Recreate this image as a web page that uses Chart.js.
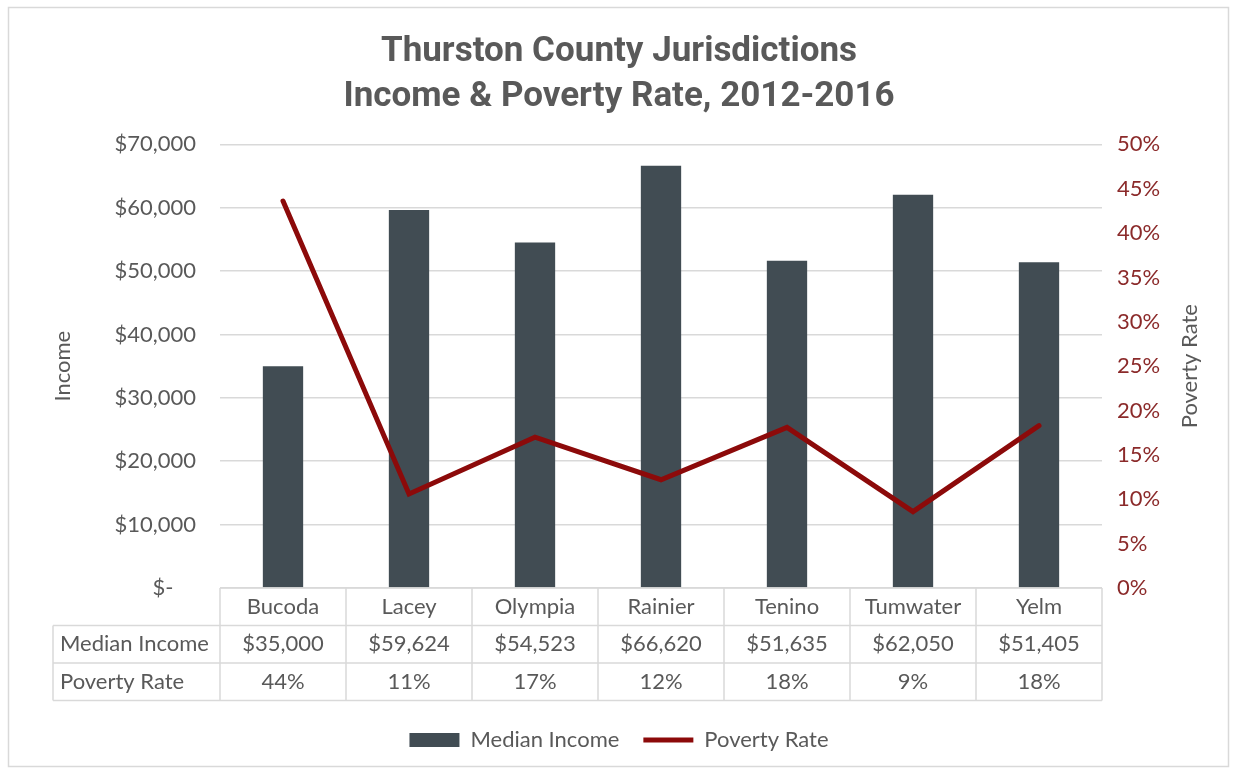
<!DOCTYPE html>
<html>
<head>
<meta charset="utf-8">
<script src="https://cdn.jsdelivr.net/npm/chart.js@4"></script>
<style>
  html, body { margin: 0; padding: 0; background: #fff; }
  canvas { display: block; }
</style>
</head>
<body>
<canvas id="chart" width="1238" height="774"></canvas>
<script>
const categories = ['Bucoda', 'Lacey', 'Olympia', 'Rainier', 'Tenino', 'Tumwater', 'Yelm'];
const medianIncome = [35000, 59624, 54523, 66620, 51635, 62050, 51405];
const povertyRate = [43.6, 10.6, 17.0, 12.2, 18.1, 8.6, 18.3];
const incomeTicks = [0, 10000, 20000, 30000, 40000, 50000, 60000, 70000];
const rateTicks = [0, 5, 10, 15, 20, 25, 30, 35, 40, 45, 50];

const GRAY = '#595959';
const LINE = '#d9d9d9';
const FONT = 'Lato';

const money = v => '$' + v.toLocaleString('en-US');

// frame + data table under the x axis + right axis title
const tablePlugin = {
  id: 'dataTable',
  beforeDraw(chart) {
    const ctx = chart.ctx;
    ctx.save();
    ctx.fillStyle = '#fff';
    ctx.fillRect(0, 0, chart.width, chart.height);
    ctx.strokeStyle = LINE;
    ctx.lineWidth = 1.5;
    ctx.strokeRect(8.5, 7.5, 1220, 759);
    ctx.restore();
  },
  afterDraw(chart) {
    const ctx = chart.ctx;
    const area = chart.chartArea;
    const x = chart.scales.x;
    const colW = (area.right - area.left) / categories.length;
    const rowH = 37.5;
    const top = area.bottom;
    const labelLeft = 53;
    ctx.save();
    ctx.strokeStyle = LINE;
    ctx.lineWidth = 1.5;
    ctx.beginPath();
    // horizontal lines
    ctx.moveTo(area.left, top); ctx.lineTo(area.right, top);
    for (let r = 1; r <= 3; r++) {
      ctx.moveTo(labelLeft, top + r * rowH); ctx.lineTo(area.right, top + r * rowH);
    }
    // vertical lines
    ctx.moveTo(labelLeft, top + rowH); ctx.lineTo(labelLeft, top + 3 * rowH);
    for (let i = 0; i <= categories.length; i++) {
      const xx = area.left + i * colW;
      ctx.moveTo(xx, top); ctx.lineTo(xx, top + 3 * rowH);
    }
    ctx.stroke();

    ctx.fillStyle = GRAY;
    ctx.font = '22px ' + FONT;
    ctx.textBaseline = 'middle';
    ctx.textAlign = 'left';
    ctx.fillText('Median Income', labelLeft + 7, top + rowH * 1.5);
    ctx.fillText('Poverty Rate', labelLeft + 7, top + rowH * 2.5);
    ctx.textAlign = 'center';
    categories.forEach((c, i) => {
      const cx = x.getPixelForValue(i);
      ctx.fillText(c, cx, top + rowH * 0.5);
      ctx.fillText(money(medianIncome[i]), cx, top + rowH * 1.5);
      ctx.fillText(Math.round(povertyRate[i]) + '%', cx, top + rowH * 2.5);
    });

    // right axis title, reading bottom to top
    ctx.translate(1190, (area.top + area.bottom) / 2);
    ctx.rotate(-Math.PI / 2);
    ctx.font = '22px ' + FONT;
    ctx.fillText('Poverty Rate', 0, 0);
    ctx.restore();
  }
};

new Chart(document.getElementById('chart'), {
  data: {
    labels: categories,
    datasets: [
      {
        type: 'line',
        label: 'Poverty Rate',
        data: povertyRate,
        yAxisID: 'y1',
        borderColor: '#8c0a0a',
        backgroundColor: '#8c0a0a',
        borderWidth: 5,
        borderCapStyle: 'round',
        pointRadius: 0,
        pointStyle: 'line',
        tension: 0,
        order: 1
      },
      {
        type: 'bar',
        label: 'Median Income',
        data: medianIncome,
        yAxisID: 'y',
        backgroundColor: '#414c53',
        borderWidth: 0,
        categoryPercentage: 1,
        barPercentage: 0.32,
        pointStyle: 'rect',
        order: 2
      }
    ]
  },
  options: {
    responsive: false,
    animation: false,
    layout: { padding: { bottom: 13 } },
    plugins: {
      title: {
        display: true,
        text: ['Thurston County Jurisdictions', 'Income & Poverty Rate, 2012-2016'],
        color: GRAY,
        font: { family: 'Roboto', weight: 'bold', size: 35, lineHeight: 1.29 },
        padding: { top: 30, bottom: 24 }
      },
      legend: {
        position: 'bottom',
        reverse: true,
        labels: {
          usePointStyle: true,
          pointStyleWidth: 50,
          boxHeight: 14,
          padding: 24,
          color: GRAY,
          font: { family: FONT, size: 22 }
        }
      },
      tooltip: { enabled: false }
    },
    scales: {
      x: {
        position: 'bottom',
        grid: { display: false },
        border: { display: false },
        ticks: { display: false },
        afterFit: s => { s.height = 117; }
      },
      y: {
        position: 'left',
        min: 0,
        max: 70000,
        afterBuildTicks: s => { s.ticks = incomeTicks.map(v => ({ value: v })); },
        grid: { color: LINE, lineWidth: 1.5, drawTicks: false },
        border: { display: false },
        ticks: {
          color: GRAY,
          padding: 24,
          font: { family: FONT, size: 22 },
          callback: v => v === 0 ? '$-    ' : money(v)
        },
        title: {
          display: true,
          text: 'Income',
          color: GRAY,
          font: { family: FONT, size: 22 },
          padding: { top: 50, bottom: 0 }
        },
        afterFit: s => { s.width = 220; }
      },
      y1: {
        position: 'right',
        min: 0,
        max: 50,
        afterBuildTicks: s => { s.ticks = rateTicks.map(v => ({ value: v })); },
        grid: { drawOnChartArea: false, drawTicks: false },
        border: { display: false },
        ticks: {
          color: '#8b2a2a',
          padding: 15,
          font: { family: FONT, size: 22 },
          callback: v => v + '%'
        },
        afterFit: s => { s.width = 136; }
      }
    }
  },
  plugins: [tablePlugin]
});
</script>
</body>
</html>
